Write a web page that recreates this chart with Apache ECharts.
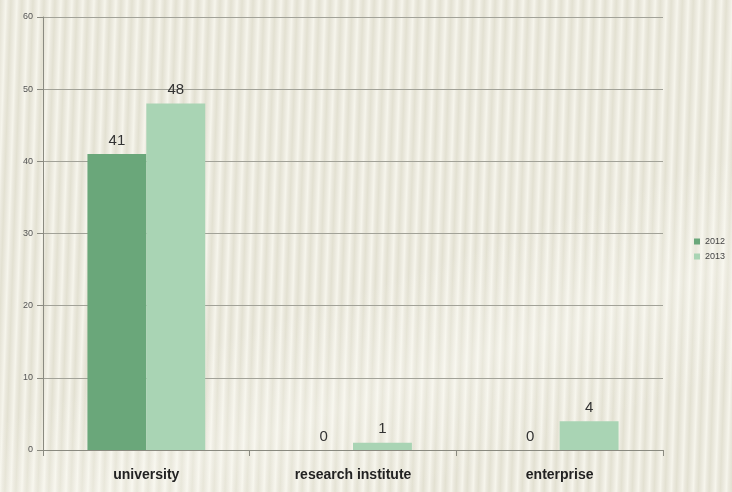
<!DOCTYPE html>
<html>
<head>
<meta charset="utf-8">
<script src="https://cdn.jsdelivr.net/npm/echarts@6/dist/echarts.min.js"></script>
<style>
html,body{margin:0;padding:0;}
#bg{position:absolute;left:0;top:0;width:732px;height:492px;
background:
 linear-gradient(160deg, rgba(255,255,255,0) 55%, rgba(255,255,250,0.25) 70%, rgba(255,255,255,0) 85%),
 repeating-linear-gradient(92deg,#e3e1d2 0px,#eceadf 3px,#f6f5ec 6px,#eceadf 8px,#e3e1d2 11px);}
#chart{position:absolute;left:0;top:0;width:732px;height:492px;}
</style>
</head>
<body>
<div id="bg"></div>
<div id="chart"></div>
<script>
var categories = ['university', 'research institute', 'enterprise'];
var values2012 = [41, 0, 0];
var values2013 = [48, 1, 4];
var seriesNames = ['2012', '2013'];
var yTicks = [0, 10, 20, 30, 40, 50, 60];

var chart = echarts.init(document.getElementById('chart'), null, {renderer: 'canvas'});
var labelStyle = {show: true, position: 'top', fontSize: 15, color: '#333', fontFamily: 'Liberation Sans, Arial, sans-serif', distance: 6};
chart.setOption({
  backgroundColor: 'transparent',
  animation: false,
  grid: {left: 43, right: 69, top: 17, bottom: 42},
  legend: {
    orient: 'vertical', right: 2, top: 232,
    icon: 'rect', itemWidth: 6, itemHeight: 6, itemGap: 6,
    textStyle: {fontSize: 9, color: '#444', fontFamily: 'Liberation Sans, Arial, sans-serif'},
    data: seriesNames
  },
  xAxis: {
    type: 'category', data: categories,
    axisLine: {lineStyle: {color: '#8a8a80', width: 1}},
    axisTick: {show: true, length: 6, lineStyle: {color: '#8a8a80'}},
    axisLabel: {fontSize: 14, fontWeight: 'bold', color: '#222', margin: 18, fontFamily: 'Liberation Sans, Arial, sans-serif'}
  },
  yAxis: {
    type: 'value', min: yTicks[0], max: yTicks[yTicks.length - 1], interval: 10,
    axisLine: {show: true, lineStyle: {color: '#8a8a80', width: 1}},
    axisTick: {show: true, length: 6, lineStyle: {color: '#8a8a80'}},
    axisLabel: {fontSize: 9, color: '#555', margin: 10, fontFamily: 'Liberation Sans, Arial, sans-serif'},
    splitLine: {lineStyle: {color: '#a2a298', width: 1}}
  },
  series: [
    {name: seriesNames[0], type: 'bar', data: values2012, barGap: '0%', barCategoryGap: '43%',
     itemStyle: {color: '#6aa77a'}, label: labelStyle},
    {name: seriesNames[1], type: 'bar', data: values2013,
     itemStyle: {color: '#a9d4b4'}, label: labelStyle}
  ]
});
</script>
</body>
</html>
